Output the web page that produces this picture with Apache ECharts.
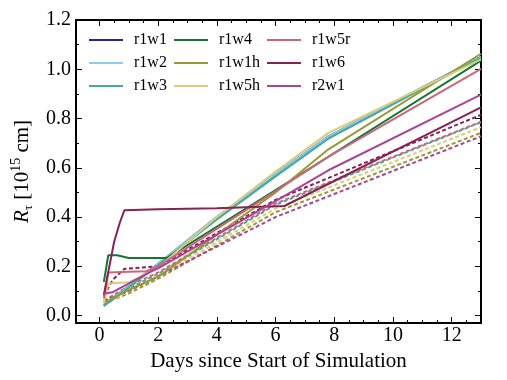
<!DOCTYPE html>
<html>
<head>
<meta charset="utf-8">
<script src="https://cdn.jsdelivr.net/npm/echarts@6/dist/echarts.min.js"></script>
<style>
  html, body { margin: 0; background: #fff; }
  #chart { width: 507px; height: 380px; }
</style>
</head>
<body>
<div id="chart"></div>
<script>
// Photosphere radius R_tau [1e15 cm] against days since start of simulation
// solid = one run per legend entry, dashed = second measure (no legend)

const names = ['r1w1', 'r1w2', 'r1w3', 'r1w4', 'r1w1h', 'r1w5h', 'r1w5r', 'r1w6', 'r2w1'];
const colors = ['#332288', '#88CCEE', '#44AA99', '#117733', '#999933', '#DDCC77', '#CC6677', '#882255', '#AA4499'];

// [day, R] pairs
const r1w1 = [[0.15, 0.04], [0.5, 0.075], [1, 0.12], [2, 0.21], [4, 0.40], [6, 0.575], [7.8, 0.728], [13, 1.05]];
const r1w2 = [[0.15, 0.04], [0.5, 0.075], [1, 0.12], [2, 0.21], [4, 0.40], [6, 0.575], [7.8, 0.728], [13, 1.05]];
const r1w3 = [[0.15, 0.04], [0.5, 0.07], [1, 0.115], [2, 0.205], [4, 0.39], [6, 0.565], [7.8, 0.718], [13, 1.047]];
const r1w4 = [[0.15, 0.137], [0.3, 0.245], [0.6, 0.245], [1, 0.234], [2.3, 0.234], [6, 0.51], [13, 1.035]];
const r1w1h = [[0.15, 0.05], [0.5, 0.075], [1, 0.105], [2, 0.157], [6, 0.50], [7.8, 0.675], [13, 1.063]];
const r1w5h = [[0.15, 0.05], [0.3, 0.13], [1, 0.135], [2, 0.195], [4, 0.40], [6, 0.585], [7.8, 0.742], [13, 1.04]];
const r1w5r = [[0.15, 0.07], [0.3, 0.175], [1, 0.178], [1.6, 0.18], [2, 0.2], [6, 0.505], [7.8, 0.645], [13, 1.002]];
const r1w6 = [[0.15, 0.085], [0.5, 0.3], [0.7, 0.38], [0.85, 0.428], [2, 0.432], [4, 0.436], [6.3, 0.445], [13, 0.845]];
const r2w1 = [[0.15, 0.09], [0.45, 0.095], [1.77, 0.18], [2, 0.192], [6, 0.465], [7.8, 0.59], [13, 0.897]];

// dashed curves
const r1w3Dash = [[0.15, 0.04], [1, 0.11], [2, 0.17], [6, 0.45], [13, 0.785]];
const r1w1hDash = [[0.15, 0.05], [1, 0.09], [2, 0.15], [6, 0.42], [13, 0.742]];
const r1w5hDash = [[0.15, 0.045], [1, 0.1], [2, 0.16], [6, 0.435], [13, 0.765]];
const r1w5rDash = [[0.15, 0.06], [1, 0.12], [2, 0.175], [6, 0.455], [13, 0.787]];
const r1w6Dash = [[0.15, 0.08], [0.45, 0.145], [0.85, 0.19], [2, 0.2], [6, 0.47], [13, 0.815]];
const r2w1Dash = [[0.15, 0.06], [1, 0.1], [2, 0.16], [6, 0.40], [13, 0.728]];

const solidData = [r1w1, r1w2, r1w3, r1w4, r1w1h, r1w5h, r1w5r, r1w6, r2w1];
const dashData = [
    [2, r1w3Dash], [4, r1w1hDash], [5, r1w5hDash], [6, r1w5rDash], [7, r1w6Dash], [8, r2w1Dash]
];

// ticks
const dayTicks = [0, 2, 4, 6, 8, 10, 12];
const dayMinor = [0.5, 1, 1.5, 2.5, 3, 3.5, 4.5, 5, 5.5, 6.5, 7, 7.5, 8.5, 9, 9.5, 10.5, 11, 11.5, 12.5];
const rTicks = [0, 0.2, 0.4, 0.6, 0.8, 1.0, 1.2];
const rMinor = [0.1, 0.3, 0.5, 0.7, 0.9, 1.1];

const FONT = 'Liberation Serif';
const chart = echarts.init(document.getElementById('chart'));

const series = [];
dashData.forEach(([ci, d]) => {
    series.push({
        name: names[ci] + ' dashed',
        type: 'line',
        data: d,
        symbol: 'none',
        lineStyle: { color: colors[ci], width: 2, type: [4, 2.5] },
        z: 2
    });
});
names.forEach((n, i) => {
    series.push({
        name: n,
        type: 'line',
        data: solidData[i],
        symbol: 'none',
        color: colors[i],
        lineStyle: { color: colors[i], width: 2 },
        z: 3
    });
});

// builds one x or y axis; majors carry the labels, minors only short ticks
function makeAxis(pos, min, max, values, len, showLine, labels, fmt) {
    return {
        type: 'value',
        position: pos,
        min: min,
        max: max,
        axisLine: { show: showLine, onZero: false, lineStyle: { color: '#000', width: 2 } },
        axisTick: { show: true, inside: true, length: len, customValues: values, lineStyle: { color: '#000', width: 1 } },
        axisLabel: labels ? {
            show: true, customValues: values, formatter: fmt,
            fontFamily: FONT, fontSize: 20, color: '#000', margin: labels
        } : { show: false },
        splitLine: { show: false }
    };
}

const xAxes = [
    makeAxis('bottom', -0.8, 13, dayTicks, 6, true, 3, v => String(v)),
    makeAxis('bottom', -0.8, 13, dayMinor, 3, false),
    makeAxis('top', -0.8, 13, dayTicks, 6, true),
    makeAxis('top', -0.8, 13, dayMinor, 3, false)
];
Object.assign(xAxes[0], {
    name: 'Days since Start of Simulation',
    nameLocation: 'middle',
    nameGap: 24,
    nameTextStyle: { fontFamily: FONT, fontSize: 21, color: '#000' }
});

const yAxes = [
    makeAxis('left', -0.03, 1.2, rTicks, 6, true, 5, v => v.toFixed(1)),
    makeAxis('left', -0.03, 1.2, rMinor, 3, false),
    makeAxis('right', -0.03, 1.2, rTicks, 6, true),
    makeAxis('right', -0.03, 1.2, rMinor, 3, false)
];
Object.assign(yAxes[0], {
    name: '{i|R}{sub|τ} [10{sup|15} cm]',
    nameLocation: 'middle',
    nameGap: 38,
    nameTextStyle: {
        fontFamily: FONT, fontSize: 21, color: '#000', lineHeight: 26,
        rich: {
            i: { fontFamily: FONT, fontSize: 21, fontStyle: 'italic', color: '#000', lineHeight: 26 },
            sub: { fontFamily: FONT, fontSize: 13, color: '#000', verticalAlign: 'bottom', lineHeight: 13 },
            sup: { fontFamily: FONT, fontSize: 14, color: '#000', verticalAlign: 'top', lineHeight: 14 }
        }
    }
});

function makeLegend(left, items) {
    return {
        left: left,
        top: 32,
        padding: 0,
        orient: 'vertical',
        icon: 'rect',
        itemWidth: 34,
        itemHeight: 2,
        itemGap: 7,
        data: items,
        selectedMode: false,
        textStyle: { fontFamily: FONT, fontSize: 16, color: '#000', lineHeight: 14, padding: [0, 0, 0, 6] }
    };
}

const option = {
    backgroundColor: '#fff',
    animation: false,
    grid: { left: 76, right: 26, top: 20, bottom: 57, outerBoundsMode: 'none', containLabel: false },
    legend: [
        makeLegend(89, names.slice(0, 3)),
        makeLegend(174, names.slice(3, 6)),
        makeLegend(267, names.slice(6, 9))
    ],
    xAxis: xAxes,
    yAxis: yAxes,
    series: series
};

chart.setOption(option);
</script>
</body>
</html>
